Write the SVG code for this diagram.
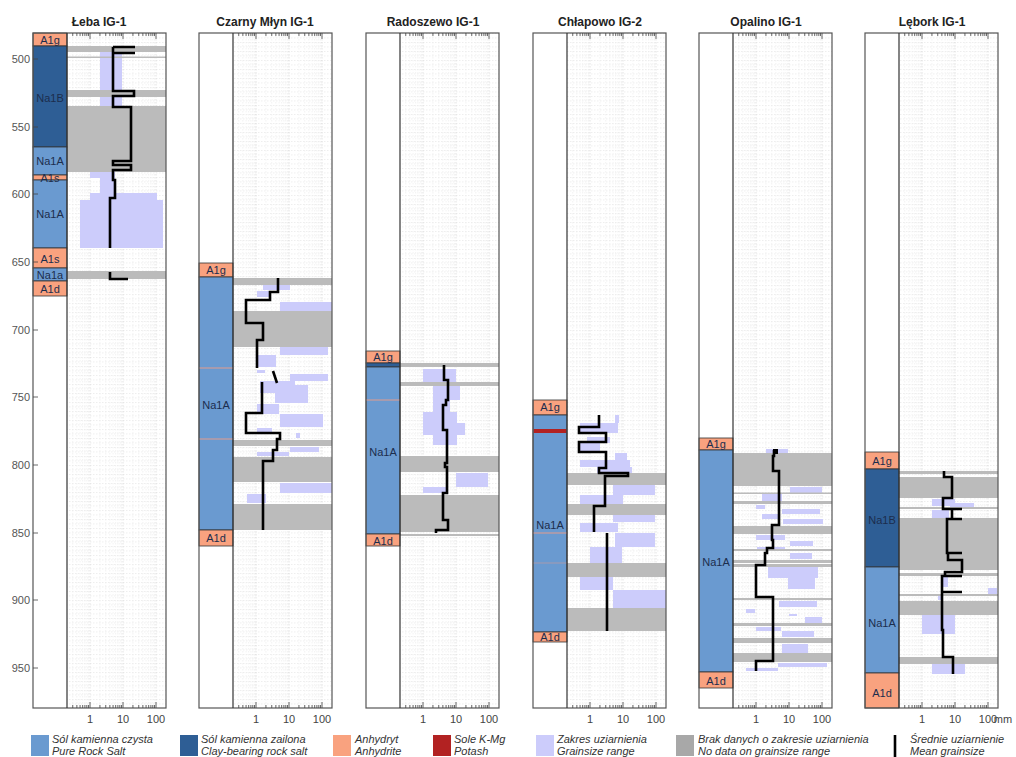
<svg xmlns="http://www.w3.org/2000/svg" width="1016" height="757" viewBox="0 0 1016 757">
<style>
.na1a{fill:#6A9AD0;stroke:#333;stroke-width:0.8}
.na1b{fill:#2E5E95;stroke:#333;stroke-width:0.8}
.anh{fill:#F9A27F;stroke:#333;stroke-width:0.8}
.kmg{fill:#B22222}
.nd{fill:#BBBBBB}
.gr{fill:#CCCCFB}
.thin{stroke:#E39B8B;stroke-width:1.2}
.mean{fill:none;stroke:#000;stroke-width:2.6;stroke-linejoin:miter}
.lbl{font-family:"Liberation Sans",Arial,sans-serif;font-size:11px;fill:#1c2d4d;text-anchor:middle}
.ttl{font-family:"Liberation Sans",Arial,sans-serif;font-size:12px;font-weight:bold;fill:#222;text-anchor:middle}
.ax{font-family:"Liberation Sans",Arial,sans-serif;font-size:11px;fill:#444;text-anchor:middle}
.dep{font-family:"Liberation Sans",Arial,sans-serif;font-size:11px;fill:#555;text-anchor:end}
.leg{font-family:"Liberation Sans",Arial,sans-serif;font-size:11px;font-style:italic;fill:#333}
.frame{fill:none;stroke:#555;stroke-width:1.2}
.sep{stroke:#333;stroke-width:1.2}
.tick{stroke:#444;stroke-width:0.8;fill:none}
</style>
<defs>
<pattern id="hg" x="0" y="33" width="3" height="4.5" patternUnits="userSpaceOnUse"><rect width="1.5" height="0.6" fill="#e4e4e4"/></pattern>
<g id="vg" stroke-width="0.7" stroke-dasharray="1.5,1.5">
<path stroke="#ececec" d="M5.74,33V708M9.87,33V708M13.07,33V708M15.68,33V708M17.89,33V708M19.8,33V708M21.49,33V708M32.93,33V708M38.74,33V708M42.87,33V708M46.07,33V708M48.68,33V708M50.89,33V708M52.8,33V708M54.49,33V708M65.93,33V708M71.74,33V708M75.87,33V708M79.07,33V708M81.68,33V708M83.89,33V708M85.8,33V708M87.49,33V708"/>
<path stroke="#d6d6d6" d="M23,33V708M56,33V708M89,33V708"/>
</g>
<g id="tk">
<path class="tick" d="M5.74,708v-3M9.87,708v-3M13.07,708v-3M15.68,708v-3M17.89,708v-3M19.8,708v-3M21.49,708v-3M23,708v-6M32.93,708v-3M38.74,708v-3M42.87,708v-3M46.07,708v-3M48.68,708v-3M50.89,708v-3M52.8,708v-3M54.49,708v-3M56,708v-6M65.93,708v-3M71.74,708v-3M75.87,708v-3M79.07,708v-3M81.68,708v-3M83.89,708v-3M85.8,708v-3M87.49,708v-3M89,708v-6M5.74,33v3M9.87,33v3M13.07,33v3M15.68,33v3M17.89,33v3M19.8,33v3M21.49,33v3M23,33v6M32.93,33v3M38.74,33v3M42.87,33v3M46.07,33v3M48.68,33v3M50.89,33v3M52.8,33v3M54.49,33v3M56,33v6M65.93,33v3M71.74,33v3M75.87,33v3M79.07,33v3M81.68,33v3M83.89,33v3M85.8,33v3M87.49,33v3M89,33v6"/>
<text class="ax" x="23" y="723">1</text>
<text class="ax" x="56" y="723">10</text>
<text class="ax" x="89" y="723">100</text>
</g>
</defs>
<rect width="1016" height="757" fill="#fff"/>

<!-- Panel 1: Łeba IG-1 -->
<g id="well-leba">
<text class="ttl" x="99" y="26">Łeba IG-1</text>
<rect x="67" y="33" width="99" height="675" fill="url(#hg)"/>
<use href="#vg" transform="translate(67,0)"/>
<rect class="gr" x="100" y="52" width="22" height="54"/>
<rect class="gr" x="90" y="172" width="25" height="6"/>
<rect class="gr" x="100" y="178" width="15" height="15"/>
<rect class="gr" x="90" y="193" width="67" height="7"/>
<rect class="gr" x="80" y="200" width="83" height="48"/>
<rect class="nd" x="67" y="46" width="99" height="6"/>
<rect class="nd" x="67" y="56.5" width="99" height="1.5"/>
<rect class="nd" x="67" y="90" width="99" height="7"/>
<rect class="nd" x="67" y="106" width="99" height="66"/>
<rect class="nd" x="67" y="271" width="99" height="8"/>
<path class="mean" d="M113,47 H135 M113,47 V53 H135 M113,53 V91 H134 V96 H113 V107 H131 V161 H113 V165 H131 V170 H113 V180 H115 V198 H110 V248"/>
<path class="mean" d="M110,272 V279 H128"/>
<rect class="anh" x="33" y="33" width="34" height="13"/>
<rect class="na1b" x="33" y="46" width="34" height="101"/>
<rect class="na1a" x="33" y="147" width="34" height="28"/>
<rect class="anh" x="33" y="175" width="34" height="5"/>
<rect class="na1a" x="33" y="180" width="34" height="68"/>
<rect class="anh" x="33" y="248" width="34" height="20"/>
<rect class="na1a" x="33" y="268" width="34" height="13"/>
<rect class="anh" x="33" y="281" width="34" height="15"/>
<text class="lbl" x="50" y="44">A1g</text>
<text class="lbl" x="50" y="102">Na1B</text>
<text class="lbl" x="50" y="165">Na1A</text>
<text class="lbl" x="50" y="182" font-size="10">A1s</text>
<text class="lbl" x="50" y="218">Na1A</text>
<text class="lbl" x="50" y="263">A1s</text>
<text class="lbl" x="50" y="279" font-size="10">Na1a</text>
<text class="lbl" x="50" y="293">A1d</text>
<rect class="frame" x="33" y="33" width="133" height="675"/>
<line class="sep" x1="67" y1="33" x2="67" y2="708"/>
<use href="#tk" transform="translate(67,0)"/>
<path class="tick" d="M33,59h5M33,127h5M33,194h5M33,262h5M33,330h5M33,397h5M33,465h5M33,533h5M33,600h5M33,668h5"/>
<text class="dep" x="30" y="63">500</text>
<text class="dep" x="30" y="131">550</text>
<text class="dep" x="30" y="198">600</text>
<text class="dep" x="30" y="266">650</text>
<text class="dep" x="30" y="334">700</text>
<text class="dep" x="30" y="401">750</text>
<text class="dep" x="30" y="469">800</text>
<text class="dep" x="30" y="537">850</text>
<text class="dep" x="30" y="604">900</text>
<text class="dep" x="30" y="672">950</text>
</g>

<!-- Panel 2: Czarny Młyn IG-1 -->
<g id="well-czarny-mlyn">
<text class="ttl" x="265" y="26">Czarny Młyn IG-1</text>
<rect x="233" y="33" width="99" height="675" fill="url(#hg)"/>
<use href="#vg" transform="translate(233,0)"/>
<rect class="gr" x="263" y="285" width="27" height="5"/>
<rect class="gr" x="257" y="291" width="13" height="6"/>
<rect class="gr" x="280" y="302" width="52" height="9"/>
<rect class="gr" x="280" y="347" width="48" height="8"/>
<rect class="gr" x="258" y="355" width="18" height="12"/>
<rect class="gr" x="257" y="370" width="8" height="3"/>
<rect class="gr" x="290" y="374" width="38" height="7"/>
<rect class="gr" x="260" y="381" width="35" height="12"/>
<rect class="gr" x="275" y="385" width="33" height="18"/>
<rect class="gr" x="257" y="404" width="22" height="10"/>
<rect class="gr" x="280" y="414" width="43" height="13"/>
<rect class="gr" x="257" y="428" width="15" height="4"/>
<rect class="gr" x="296" y="433" width="4" height="5"/>
<rect class="gr" x="290" y="447" width="29" height="5"/>
<rect class="gr" x="257" y="452" width="32" height="4"/>
<rect class="gr" x="280" y="483" width="52" height="10"/>
<rect class="gr" x="247" y="494" width="19" height="9"/>
<rect class="nd" x="233" y="278" width="99" height="7"/>
<rect class="nd" x="233" y="311" width="99" height="36"/>
<rect class="nd" x="233" y="440" width="99" height="6"/>
<rect class="nd" x="233" y="457" width="99" height="25"/>
<rect class="nd" x="233" y="504" width="99" height="26"/>
<path class="mean" d="M278,278 V292 H270 V300 H246 V323 H263 V340 H257 V368 M273,371 L277,383 M262,382 V413 H246 V433 H280 V439 H277 V450 H273 V461 H263 V530"/>
<rect class="anh" x="199" y="263" width="34" height="14"/>
<rect class="na1a" x="199" y="277" width="34" height="253"/>
<line class="thin" x1="199" y1="368" x2="233" y2="368"/>
<line class="thin" x1="199" y1="439" x2="233" y2="439"/>
<rect class="anh" x="199" y="530" width="34" height="16"/>
<text class="lbl" x="216" y="274">A1g</text>
<text class="lbl" x="216" y="409">Na1A</text>
<text class="lbl" x="216" y="542">A1d</text>
<rect class="frame" x="199" y="33" width="133" height="675"/>
<line class="sep" x1="233" y1="33" x2="233" y2="708"/>
<use href="#tk" transform="translate(233,0)"/>
</g>

<!-- Panel 3: Radoszewo IG-1 -->
<g id="well-radoszewo">
<text class="ttl" x="433" y="26">Radoszewo IG-1</text>
<rect x="400" y="33" width="99" height="675" fill="url(#hg)"/>
<use href="#vg" transform="translate(400,0)"/>
<rect class="gr" x="423" y="369" width="33" height="13"/>
<rect class="gr" x="433" y="386" width="27" height="14"/>
<rect class="gr" x="433" y="400" width="17" height="12"/>
<rect class="gr" x="423" y="412" width="34" height="11"/>
<rect class="gr" x="423" y="423" width="42" height="12"/>
<rect class="gr" x="433" y="435" width="24" height="10"/>
<rect class="gr" x="456" y="473" width="32" height="14"/>
<rect class="gr" x="423" y="487" width="24" height="6"/>
<rect class="nd" x="400" y="363" width="99" height="4"/>
<rect class="nd" x="400" y="382" width="99" height="4"/>
<rect class="nd" x="400" y="456" width="99" height="16"/>
<rect class="nd" x="400" y="495" width="99" height="37"/>
<rect class="nd" x="400" y="534" width="99" height="2"/>
<path class="mean" d="M444,365 V380 H448 V400 H446 V405 H443 V430 H447 V463 H445 V467 H447 V493 H443 V520 H448 V530 H436 V533"/>
<rect class="anh" x="366" y="351" width="34" height="12"/>
<rect class="na1b" x="366" y="363" width="34" height="4"/>
<rect class="na1a" x="366" y="367" width="34" height="167"/>
<line class="thin" x1="366" y1="400" x2="400" y2="400"/>
<rect class="anh" x="366" y="534" width="34" height="12"/>
<text class="lbl" x="383" y="361">A1g</text>
<text class="lbl" x="383" y="456">Na1A</text>
<text class="lbl" x="383" y="545">A1d</text>
<rect class="frame" x="366" y="33" width="133" height="675"/>
<line class="sep" x1="400" y1="33" x2="400" y2="708"/>
<use href="#tk" transform="translate(400,0)"/>
</g>

<!-- Panel 4: Chłapowo IG-2 -->
<g id="well-chlapowo">
<text class="ttl" x="600" y="26">Chłapowo IG-2</text>
<rect x="567" y="33" width="99" height="675" fill="url(#hg)"/>
<use href="#vg" transform="translate(567,0)"/>
<rect class="gr" x="615" y="415" width="4" height="8"/>
<rect class="gr" x="580" y="423" width="38" height="10"/>
<rect class="gr" x="587" y="437" width="23" height="6"/>
<rect class="gr" x="580" y="443" width="20" height="10"/>
<rect class="gr" x="615" y="453" width="12" height="7"/>
<rect class="gr" x="580" y="460" width="50" height="7"/>
<rect class="gr" x="597" y="467" width="35" height="6"/>
<rect class="gr" x="613" y="485" width="42" height="10"/>
<rect class="gr" x="580" y="495" width="43" height="9"/>
<rect class="gr" x="613" y="515" width="42" height="7"/>
<rect class="gr" x="580" y="523" width="38" height="9"/>
<rect class="gr" x="615" y="533" width="40" height="14"/>
<rect class="gr" x="590" y="547" width="32" height="16"/>
<rect class="gr" x="580" y="577" width="33" height="13"/>
<rect class="gr" x="613" y="590" width="53" height="18"/>
<rect class="nd" x="567" y="473" width="99" height="12"/>
<rect class="nd" x="567" y="504" width="99" height="11"/>
<rect class="nd" x="567" y="563" width="99" height="14"/>
<rect class="nd" x="567" y="608" width="99" height="23"/>
<path class="mean" d="M599,415 V427 H579 V433 H606 V442 H579 V452 H606 V468 H599 V473 H628 V476 H605 V506 H594 V532 M607,533 V631"/>
<rect class="anh" x="533" y="400" width="34" height="15"/>
<rect class="na1a" x="533" y="415" width="34" height="217"/>
<rect class="kmg" x="533.5" y="429" width="33" height="4"/>
<line class="thin" x1="533" y1="533" x2="567" y2="533"/>
<line class="thin" x1="533" y1="563" x2="567" y2="563" stroke-opacity="0.5"/>
<rect class="anh" x="533" y="632" width="34" height="10"/>
<text class="lbl" x="550" y="411">A1g</text>
<text class="lbl" x="550" y="529">Na1A</text>
<text class="lbl" x="550" y="641">A1d</text>
<rect class="frame" x="533" y="33" width="133" height="675"/>
<line class="sep" x1="567" y1="33" x2="567" y2="708"/>
<use href="#tk" transform="translate(567,0)"/>
</g>

<!-- Panel 5: Opalino IG-1 -->
<g id="well-opalino">
<text class="ttl" x="766" y="26">Opalino IG-1</text>
<rect x="733" y="33" width="99" height="675" fill="url(#hg)"/>
<use href="#vg" transform="translate(733,0)"/>
<rect class="gr" x="766" y="449" width="22" height="4"/>
<rect class="gr" x="790" y="487" width="32" height="6"/>
<rect class="gr" x="762" y="494" width="20" height="7"/>
<rect class="gr" x="756" y="505" width="9" height="4"/>
<rect class="gr" x="782" y="509" width="38" height="5"/>
<rect class="gr" x="762" y="514" width="16" height="5"/>
<rect class="gr" x="783" y="519" width="40" height="5"/>
<rect class="gr" x="756" y="535" width="29" height="5"/>
<rect class="gr" x="790" y="541" width="23" height="5"/>
<rect class="gr" x="757" y="547" width="28" height="2"/>
<rect class="gr" x="790" y="553" width="22" height="6"/>
<rect class="gr" x="768" y="566" width="50" height="12"/>
<rect class="gr" x="788" y="578" width="27" height="11"/>
<rect class="gr" x="779" y="601" width="38" height="6"/>
<rect class="gr" x="746" y="609" width="9" height="4"/>
<rect class="gr" x="789" y="614" width="8" height="2"/>
<rect class="gr" x="805" y="617" width="17" height="6"/>
<rect class="gr" x="756" y="627" width="25" height="4"/>
<rect class="gr" x="782" y="631" width="32" height="6"/>
<rect class="gr" x="782" y="644" width="26" height="9"/>
<rect class="gr" x="778" y="663" width="49" height="4"/>
<rect class="gr" x="746" y="668" width="32" height="3"/>
<rect class="nd" x="733" y="453" width="99" height="33"/>
<rect class="nd" x="733" y="492.5" width="99" height="1.5"/>
<rect class="nd" x="733" y="501" width="99" height="3"/>
<rect class="nd" x="733" y="526" width="99" height="8"/>
<rect class="nd" x="733" y="549" width="99" height="2"/>
<rect class="nd" x="733" y="560" width="99" height="3"/>
<rect class="nd" x="733" y="564" width="99" height="3"/>
<rect class="nd" x="733" y="598" width="99" height="2"/>
<rect class="nd" x="733" y="623" width="99" height="3"/>
<rect class="nd" x="733" y="638" width="99" height="5"/>
<rect class="nd" x="733" y="653" width="99" height="9"/>
<path class="mean" d="M774,450 V456 H773 V471 H779 V525 H772 V540 H773 V548 H767 V553 H765 V565 H756 V597 H773 V661 H756 V671"/>
<rect x="773" y="449" width="5" height="5" fill="#000"/>
<rect class="anh" x="699" y="438" width="34" height="12"/>
<rect class="na1a" x="699" y="450" width="34" height="222"/>
<rect class="anh" x="699" y="672" width="34" height="16"/>
<text class="lbl" x="716" y="448">A1g</text>
<text class="lbl" x="716" y="566">Na1A</text>
<text class="lbl" x="716" y="685">A1d</text>
<rect class="frame" x="699" y="33" width="133" height="675"/>
<line class="sep" x1="733" y1="33" x2="733" y2="708"/>
<use href="#tk" transform="translate(733,0)"/>
</g>

<!-- Panel 6: Lębork IG-1 -->
<g id="well-lebork">
<text class="ttl" x="932" y="26">Lębork IG-1</text>
<rect x="899" y="33" width="99" height="675" fill="url(#hg)"/>
<use href="#vg" transform="translate(899,0)"/>
<rect class="gr" x="932" y="499" width="23" height="7"/>
<rect class="gr" x="950" y="503" width="24" height="6"/>
<rect class="gr" x="932" y="510" width="17" height="8"/>
<rect class="gr" x="943" y="577" width="5" height="10"/>
<rect class="gr" x="988" y="588" width="9" height="6"/>
<rect class="gr" x="938" y="595" width="4" height="5"/>
<rect class="gr" x="922" y="615" width="33" height="19"/>
<rect class="gr" x="932" y="664" width="33" height="10"/>
<rect class="nd" x="899" y="471" width="99" height="3"/>
<rect class="nd" x="899" y="477" width="99" height="21"/>
<rect class="nd" x="899" y="507" width="99" height="2"/>
<rect class="nd" x="899" y="518" width="99" height="52"/>
<rect class="nd" x="899" y="573" width="99" height="3"/>
<rect class="nd" x="899" y="594" width="99" height="2"/>
<rect class="nd" x="899" y="601" width="99" height="14"/>
<rect class="nd" x="899" y="657" width="99" height="7"/>
<path class="mean" d="M944,471 V477 H952 V498 H943 V509 H962 M952,509 V519 H962 M952,519 H947 V553 H962 M948,553 V560 H962 V572 H945 V576 H962 M945,576 H942 V592 H962 M942,592 V630 H943 V657 H953 V674"/>
<rect class="anh" x="865" y="452" width="34" height="17"/>
<rect class="na1b" x="865" y="469" width="34" height="98"/>
<rect class="na1a" x="865" y="567" width="34" height="106"/>
<rect class="anh" x="865" y="673" width="34" height="35"/>
<text class="lbl" x="882" y="465">A1g</text>
<text class="lbl" x="882" y="524">Na1B</text>
<text class="lbl" x="882" y="627">Na1A</text>
<text class="lbl" x="882" y="697">A1d</text>
<rect class="frame" x="865" y="33" width="133" height="675"/>
<line class="sep" x1="899" y1="33" x2="899" y2="708"/>
<use href="#tk" transform="translate(899,0)"/>
<text class="ax" x="1003" y="723" text-anchor="start">mm</text>
</g>

<!-- Legend -->
<g id="legend">
<rect x="31" y="735" width="18" height="21" fill="#6A9AD0"/>
<text class="leg" x="52" y="743">Sól kamienna czysta</text>
<text class="leg" x="52" y="755">Pure Rock Salt</text>
<rect x="180" y="735" width="18" height="21" fill="#2E5E95"/>
<text class="leg" x="201" y="743">Sól kamienna zailona</text>
<text class="leg" x="201" y="755">Clay-bearing rock salt</text>
<rect x="333" y="735" width="18" height="21" fill="#F9A27F"/>
<text class="leg" x="355" y="743">Anhydryt</text>
<text class="leg" x="355" y="755">Anhydrite</text>
<rect x="433" y="735" width="18" height="21" fill="#B22222"/>
<text class="leg" x="454" y="743">Sole K-Mg</text>
<text class="leg" x="454" y="755">Potash</text>
<rect x="536" y="735" width="18" height="21" fill="#CCCCFB"/>
<text class="leg" x="557" y="743">Zakres uziarnienia</text>
<text class="leg" x="557" y="755">Grainsize range</text>
<rect x="676" y="735" width="18" height="21" fill="#A8A8A8"/>
<text class="leg" x="698" y="743">Brak danych o zakresie uziarnienia</text>
<text class="leg" x="698" y="755">No data on grainsize range</text>
<line x1="895" y1="735" x2="895" y2="757" stroke="#000" stroke-width="2.6"/>
<text class="leg" x="910" y="743">Średnie uziarnienie</text>
<text class="leg" x="910" y="755">Mean grainsize</text>
</g>
</svg>
